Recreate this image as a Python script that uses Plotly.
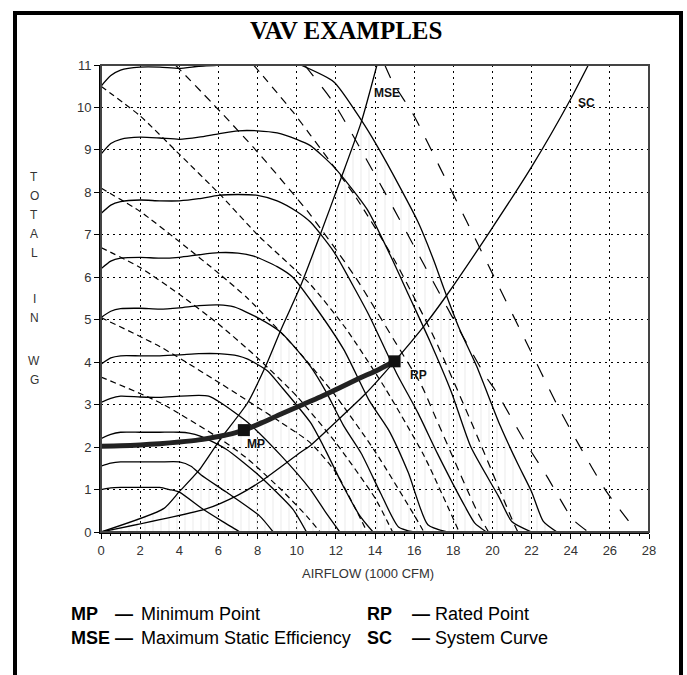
import plotly.graph_objects as go

# ---------------- data ----------------
x_tick_vals = list(range(0, 29, 2))
y_tick_vals = list(range(0, 12))

# solid fan curves (airflow, total pressure)
fan_1 = [(0,10.5),(0.5,10.75),(1,10.88),(2,10.95),(3,10.95),(4,10.92),(5,10.97),(6,11.0),(7,11.1),(8,11.2),(9,11.2),
         (10.2,11.0),(11.9,10.6),(13.3,9.7),(14.1,9.1),(15.3,8.1),(16.2,7.3),(17.0,6.4),(17.5,5.76),(18.3,4.8),
         (19.2,3.9),(20.4,2.5),(21.3,1.6),(22.0,0.95),(22.6,0.25),(23.3,0)]
fan_2 = [(0,8.9),(0.5,9.15),(1,9.25),(2,9.3),(3,9.28),(4,9.25),(5,9.3),(6,9.38),(7,9.45),(8,9.45),(9,9.4),(10,9.25),
         (10.7,9.1),(11.9,8.6),(13.6,7.6),(14.8,6.5),(15.7,5.6),(16.8,4.5),(17.9,3.3),(18.9,2.0),(20.3,0.85),(21.0,0.24),(22.0,0)]
fan_3 = [(0,7.5),(0.5,7.7),(1,7.78),(2,7.82),(3,7.8),(4,7.8),(5,7.85),(6,7.93),(7,7.95),(8,7.93),(9,7.8),(10,7.55),
         (10.7,7.3),(11.9,6.6),(13.0,5.7),(13.7,5.1),(15.1,3.74),(16.2,2.8),(17.2,1.84),(18.6,0.6),(19.1,0.21),(19.7,0)]
fan_4 = [(0,6.2),(0.5,6.38),(1,6.45),(2,6.47),(3,6.45),(4,6.47),(5,6.53),(6,6.58),(7,6.57),(7.8,6.5),(9,6.25),(9.8,6.0),
         (10.8,5.4),(12.4,4.3),(13.7,3.1),(14.7,2.4),(15.7,1.4),(16.7,0.17),(17.7,0)]
fan_5 = [(0,5.05),(0.5,5.2),(1,5.26),(2,5.27),(3,5.25),(4,5.28),(5,5.33),(6,5.35),(6.8,5.3),(8,5.05),(9.2,4.7),(10.7,3.9),
         (11.5,3.3),(12.4,2.5),(13.3,1.85),(14.3,0.9),(15.2,0.12),(16.0,0)]
fan_6 = [(0,3.95),(0.5,4.1),(1,4.15),(2,4.15),(3,4.15),(4,4.17),(5,4.2),(6,4.2),(7,4.15),(7.5,4.07),(8.5,3.8),(9.2,3.43),
         (10.7,2.58),(11.5,1.9),(12.3,1.15),(13.2,0.4),(13.9,0)]
fan_7 = [(0,3.05),(0.5,3.15),(1,3.2),(2,3.18),(3,3.17),(4,3.2),(5,3.22),(5.5,3.2),(6.1,3.05),(7.5,2.58),(9.2,1.8),
         (10.7,1.0),(11.5,0.45),(12.2,0)]
fan_8 = [(0,2.2),(0.5,2.3),(1,2.35),(2,2.35),(3,2.35),(4,2.35),(4.5,2.33),(5.07,2.26),(6.4,1.95),(8.1,1.32),(9.8,0.54),(10.5,0)]
fan_9 = [(0,1.55),(0.5,1.62),(1,1.65),(2,1.65),(3,1.65),(4,1.65),(4.6,1.55),(5.1,1.35),(6.4,0.94),(8.1,0.38),(8.8,0)]
fan_10 = [(0,1.0),(0.5,1.04),(1,1.05),(2,1.05),(3,1.05),(3.5,1.0),(4.0,0.94),(5.2,0.54),(6.2,0.25),(7.0,0.03),(7.1,0)]

# short-dashed curves
dash_1 = [(0,10.5),(2,9.8),(4,8.9),(6.1,7.94),(8,7.0),(10.7,5.83),(12.5,4.8),(14.5,3.4),(16.5,1.8),(18.3,0)]
dash_2 = [(0,8.1),(2,7.55),(4,6.84),(6.1,6.06),(7.5,5.5),(10,4.3),(12,3.2),(14,1.9),(16,0.4),(16.5,0)]
dash_3 = [(0,6.7),(2,6.23),(4,5.6),(6,4.9),(8,4.1),(10,3.2),(12,2.1),(14,0.8),(14.9,0)]
dash_4 = [(0,5.05),(3,4.37),(6.1,3.5),(9.2,2.58),(10.7,2.1),(12,1.4),(13.6,0)]
dash_5 = [(0,3.65),(3,3.05),(6.1,2.19),(7.5,1.72),(9.2,1.0),(10.5,0.38),(11.2,0)]
dash_6 = [(3.8,11),(6.1,9.9),(8,8.95),(10.7,7.47),(13,6.0),(15,4.5),(16.4,3.43),(17,2.8),(19.2,0.5),(19.8,0)]
dash_7 = [(7.8,11),(9.8,9.9),(10.7,9.35),(13,7.9),(15,6.4),(17,4.6),(19,2.5),(21,0.3),(21.3,0)]
# long-dashed curves
long_1 = [(14.5,11),(14.9,10.6),(16.0,9.8),(17.3,8.6),(18.7,7.3),(20.2,5.9),(21.7,4.5),(23.3,3.0),(24.4,2.07),(25.8,0.97),(27.4,0)]
long_2 = [(10.4,11),(11.9,10.1),(14.5,8.0),(16.5,6.3),(18.5,4.6),(19.65,3.67),(20.2,3.3),(21.7,2.1),(22.8,1.3),(23.4,0.82),(24.1,0.3),(24.9,0)]

# system curve, max static efficiency curve, operating path
mse_curve = [(0,0),(3.2,0.55),(4,0.95),(5,1.45),(6.1,2.19),(7.5,3.05),(8.5,4.0),(9.2,4.77),(10.2,5.8),(11.2,7.0),(12.2,8.25),(13.3,9.66),(14.1,11)]
system_curve = [(0,0),(5.4,0.55),(7,0.87),(8.1,1.17),(10.2,1.88),(10.7,2.04),(12.2,2.68),(13.5,3.25),(15,4.02),(16.5,4.85),
                (17.7,5.6),(19.9,7.1),(22,8.6),(24,10.2),(24.9,11)]
operating_path = [(0,2.02),(1,2.03),(2,2.05),(3,2.08),(4,2.12),(5,2.17),(6,2.25),(6.8,2.33),(7.3,2.4),(8.2,2.57),(9.2,2.78),
                  (10.2,2.98),(11.2,3.18),(12.2,3.4),(13.2,3.62),(14.2,3.83),(15,4.02)]
min_point = (7.3, 2.4)
rated_point = (15.0, 4.02)

point_labels = ["MSE", "SC", "MP", "RP"]
point_label_pos = [(14.6, 10.35), (24.8, 10.1), (7.9, 2.08), (16.2, 3.7)]

legend_keys = ["MP", "MSE", "RP", "SC"]
legend_texts = ["Minimum Point", "Maximum Static Efficiency", "Rated Point", "System Curve"]

y_title_letters = ["T", "O", "T", "A", "L", "I", "N", "W", "G"]
y_title_rows = [177, 196, 215, 234, 253, 299, 318, 361, 380]

# ---------------- figure ----------------
L, R, T, B = 101, 649, 65, 532
W, H = 687, 675
def px_x(px): return (px - L) / (R - L)
def px_y(py): return (B - py) / (B - T)

fig = go.Figure()

# hatched region between MSE curve and outer fan curve
hx = [p[0] for p in mse_curve if p[0] <= 13.3] + [p[0] for p in fan_1 if p[0] > 13.3] + [0]
hy = [p[1] for p in mse_curve if p[0] <= 13.3] + [p[1] for p in fan_1 if p[0] > 13.3] + [0]
fig.add_trace(go.Scatter(x=hx, y=hy, mode="lines", fill="toself", line=dict(width=0),
                         fillcolor="rgba(0,0,0,0)",
                         fillpattern=dict(shape="|", fgcolor="#d4d4d4", bgcolor="rgba(0,0,0,0)", size=8, solidity=0.12),
                         hoverinfo="skip", showlegend=False))

def add_curve(pts, width=1.3, dash="solid", color="black"):
    fig.add_trace(go.Scatter(x=[p[0] for p in pts], y=[p[1] for p in pts], mode="lines",
                             line=dict(color=color, width=width, dash=dash, shape="spline", smoothing=0.6),
                             hoverinfo="skip", showlegend=False))

for c in [dash_1, dash_2, dash_3, dash_4, dash_5]:
    add_curve(c, width=1.2, dash="6px,4px")
for c in [dash_6, dash_7]:
    add_curve(c, width=1.2, dash="8px,6px")
for c in [long_1, long_2]:
    add_curve(c, width=1.2, dash="14px,14px")
for c in [fan_1, fan_2, fan_3, fan_4, fan_5, fan_6, fan_7, fan_8, fan_9, fan_10]:
    add_curve(c, width=1.3)
add_curve(mse_curve, width=1.3)
add_curve(system_curve, width=1.3)
add_curve(operating_path, width=5, color="#222")

fig.add_trace(go.Scatter(x=[min_point[0], rated_point[0]], y=[min_point[1], rated_point[1]], mode="markers",
                         marker=dict(symbol="square", size=12, color="#111"), hoverinfo="skip", showlegend=False))

FONT = "Liberation Sans, Arial"
annotations = []
for txt, (ax_, ay_) in zip(point_labels, point_label_pos):
    annotations.append(dict(x=ax_, y=ay_, xref="x", yref="y", text=f"<b>{txt}</b>", showarrow=False,
                            xanchor="center", yanchor="middle",
                            font=dict(family=FONT, size=12, color="#111")))

# title
annotations.append(dict(x=px_x(346), y=px_y(31), xref="paper", yref="paper", text="<b>VAV EXAMPLES</b>",
                        xanchor="center", yanchor="middle", showarrow=False,
                        font=dict(family="Liberation Serif", size=25, color="black")))
# y title letters
for ch, row in zip(y_title_letters, y_title_rows):
    annotations.append(dict(x=px_x(34), y=px_y(row), xref="paper", yref="paper", text=ch, showarrow=False,
                            xanchor="center", yanchor="middle", borderpad=0,
                            font=dict(family=FONT, size=12, color="#333")))
# x title
annotations.append(dict(x=px_x(368), y=px_y(573), xref="paper", yref="paper", text="AIRFLOW (1000 CFM)", showarrow=False,
                        xanchor="center", yanchor="middle",
                        font=dict(family=FONT, size=13, color="#333")))
# legend text
leg_rows = [614, 638]
for i, (k, t) in enumerate(zip(legend_keys, legend_texts)):
    col = i // 2
    row = leg_rows[i % 2]
    kx = [70, 366][col]
    dx = [114, 411][col]
    tx = [140, 434][col]
    for xx, txt in [(kx, f"<b>{k}</b>"), (dx, "<b>—</b>"), (tx, t)]:
        annotations.append(dict(x=px_x(xx), y=px_y(row), xref="paper", yref="paper", text=txt,
                                xanchor="left", yanchor="middle", showarrow=False, borderpad=0,
                                font=dict(family=FONT, size=18, color="black")))

shapes = [
    # outer frame (bottom runs off the page)
    dict(type="rect", xref="paper", yref="paper", x0=px_x(15), x1=px_x(681), y0=px_y(700), y1=px_y(13),
         line=dict(color="black", width=4)),
    # plot top/right border
    dict(type="rect", xref="paper", yref="paper", x0=0, x1=1, y0=0, y1=1, line=dict(color="#444", width=2)),
]

fig.update_layout(
    width=W, height=H, margin=dict(l=L, r=W - R, t=T, b=H - B),
    paper_bgcolor="white", plot_bgcolor="white",
    annotations=annotations, shapes=shapes,
    xaxis=dict(range=[0, 28], tickvals=x_tick_vals, showgrid=True, gridcolor="black", gridwidth=1,
               griddash="2px,4px", showline=True, linecolor="black", linewidth=2, ticks="outside",
               ticklen=5, tickcolor="black", zeroline=False,
               tickfont=dict(family=FONT, size=13, color="#333"),
               minor=dict(dtick=0.5, ticks="outside", ticklen=2, tickcolor="black", showgrid=False)),
    yaxis=dict(range=[0, 11], tickvals=y_tick_vals, showgrid=True, gridcolor="black", gridwidth=1,
               griddash="2px,4px", showline=True, linecolor="black", linewidth=2, ticks="outside",
               ticklen=5, tickcolor="black", zeroline=False,
               tickfont=dict(family=FONT, size=13, color="#333")),
)

fig.write_html("out.html", config={"displayModeBar": False},
               post_script="document.body.style.margin='0';document.body.style.padding='0';")
